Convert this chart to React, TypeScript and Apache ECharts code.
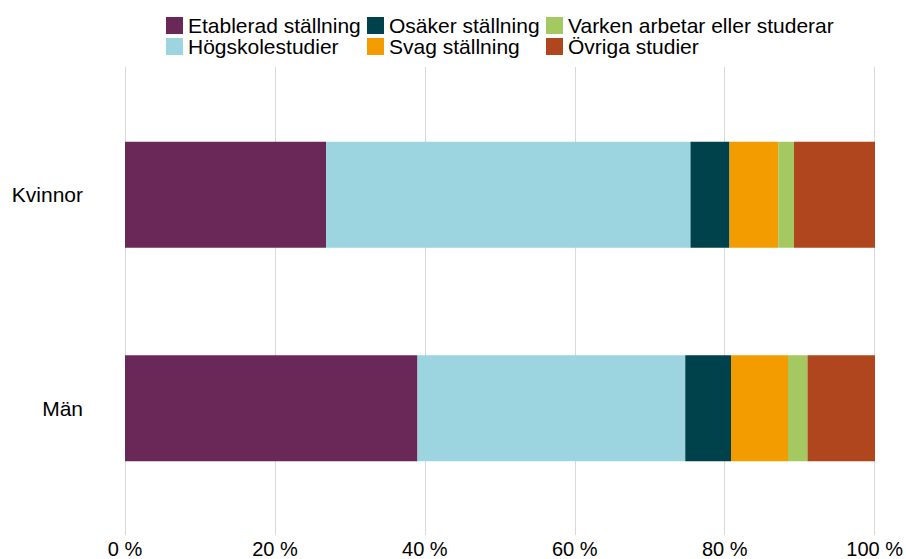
import React, { useEffect, useRef } from "react";
import * as echarts from "echarts";

const categories = ["Kvinnor", "Män"];
const seriesNames = [
  "Etablerad ställning",
  "Högskolestudier",
  "Osäker ställning",
  "Svag ställning",
  "Varken arbetar eller studerar",
  "Övriga studier",
];
const etablerad = [26.8, 39.0];
const hogskolestudier = [48.6, 35.7];
const osaker = [5.2, 6.1];
const svag = [6.5, 7.6];
const varken = [2.1, 2.6];
const ovriga = [10.8, 9.0];
const seriesValues = [etablerad, hogskolestudier, osaker, svag, varken, ovriga];
const colors = ["#6A2858", "#9CD5DF", "#00424B", "#F39C00", "#A3C960", "#B0461D"];
const xTicks = { min: 0, max: 100, interval: 20 };

const FONT = "'Liberation Sans', Arial, sans-serif";

export default function App() {
  const ref = useRef<HTMLDivElement>(null);
  useEffect(() => {
    if (!ref.current) return;
    const chart = echarts.init(ref.current, null, { renderer: "svg" });
    const legendCols = [
      { left: 166, names: [seriesNames[0], seriesNames[1]] },
      { left: 367, names: [seriesNames[2], seriesNames[3]] },
      { left: 546, names: [seriesNames[4], seriesNames[5]] },
    ];
    chart.setOption({
      animation: false,
      textStyle: { fontFamily: FONT },
      legend: legendCols.map((c) => ({
        orient: "vertical",
        left: c.left,
        top: 15,
        padding: 0,
        itemWidth: 17,
        itemHeight: 17,
        itemGap: 0,
        icon: "rect",
        selectedMode: false,
        data: c.names,
        textStyle: { fontSize: 21, color: "#000", fontFamily: FONT, lineHeight: 21 },
      })),
      grid: [
        { left: 125, right: 31, top: 88, bottom: 44, containLabel: false },
        { left: 125, right: 31, top: 67, bottom: 23, containLabel: false },
      ],
      xAxis: [
        {
          type: "value",
          gridIndex: 0,
          min: xTicks.min,
          max: xTicks.max,
          interval: xTicks.interval,
          show: false,
          splitLine: { show: false },
        },
        {
          type: "value",
          gridIndex: 1,
          min: xTicks.min,
          max: xTicks.max,
          interval: xTicks.interval,
          axisLine: { show: false },
          axisTick: { show: false },
          splitLine: { show: true, lineStyle: { color: "#d9d9d9", width: 1 } },
          axisLabel: {
            formatter: "{value} %",
            fontSize: 20,
            color: "#000",
            margin: 4,
            fontFamily: FONT,
          },
        },
      ],
      yAxis: [
        {
          type: "category",
          gridIndex: 0,
          data: categories,
          inverse: true,
          axisLine: { show: false },
          axisTick: { show: false },
          axisLabel: { fontSize: 21, color: "#000", margin: 42, fontFamily: FONT },
        },
        {
          type: "category",
          gridIndex: 1,
          data: categories,
          show: false,
        },
      ],
      series: seriesNames.map((name, i) => ({
        name,
        type: "bar",
        stack: "total",
        xAxisIndex: 0,
        yAxisIndex: 0,
        barWidth: 106,
        itemStyle: { color: colors[i] },
        data: seriesValues[i],
      })),
    });
    return () => chart.dispose();
  }, []);
  return (
    <div
      ref={ref}
      style={{ position: "fixed", left: 0, top: 0, width: 906, height: 559, background: "#fff" }}
    />
  );
}
